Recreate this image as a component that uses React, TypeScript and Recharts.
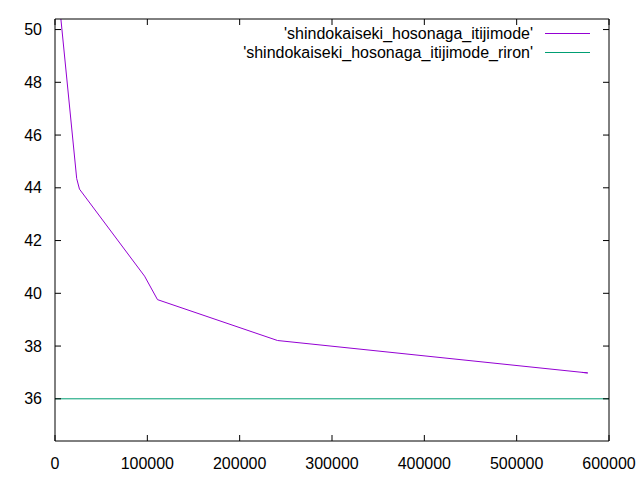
import { LineChart, Line, XAxis, YAxis, Legend } from "recharts"

const measuredX = [1000, 23500, 26500, 97000, 111000, 241000, 577000, 571000]
const measuredY = [52.3, 44.35, 43.95, 40.65, 39.76, 38.21, 36.98, 37.0]

// theoretical value
const rironX = [0, 600000]
const rironY = [36, 36]

const xTicks = [0, 100000, 200000, 300000, 400000, 500000, 600000]
const yTicks = [36, 38, 40, 42, 44, 46, 48, 50]

const seriesNames = [
  "'shindokaiseki_hosonaga_itijimode'",
  "'shindokaiseki_hosonaga_itijimode_riron'",
]
const seriesColors = ["#9400d3", "#009e73"]

const measured = measuredX.map((x, i) => ({ x, y: measuredY[i] }))
const riron = rironX.map((x, i) => ({ x, y: rironY[i] }))

const FONT = "'Liberation Sans', Arial, sans-serif"
const noLabel = () => ""

const GnuplotKey = () => (
  <div style={{ position: "relative", width: 640, height: 0, fontFamily: FONT, fontSize: 16, color: "#000" }}>
    {seriesNames.map((name, i) => (
      <div key={name}>
        <div
          style={{
            position: "absolute",
            right: 640 - 533,
            top: 24 + i * 19,
            lineHeight: "19px",
            whiteSpace: "nowrap",
          }}
        >
          {name}
        </div>
        <div
          style={{
            position: "absolute",
            left: 545,
            width: 45,
            top: 33 + i * 19,
            height: 1,
            background: seriesColors[i],
          }}
        />
      </div>
    ))}
  </div>
)

const App = () => {
  return (
    <div style={{ position: "absolute", left: 0, top: 0, fontFamily: FONT }}>
      <LineChart width={640} height={480} margin={{ top: 18, right: 30, bottom: 0, left: 0 }}>
        <XAxis
          xAxisId="bottom"
          dataKey="x"
          type="number"
          domain={[0, 600000]}
          ticks={xTicks}
          allowDataOverflow
          height={39}
          tickSize={-6}
          tickMargin={23}
          stroke="#000"
          tick={{ fill: "#000", fontSize: 16 }}
        />
        <XAxis
          xAxisId="top"
          orientation="top"
          dataKey="x"
          type="number"
          domain={[0, 600000]}
          ticks={xTicks}
          allowDataOverflow
          height={1}
          tickSize={-6}
          tickFormatter={noLabel}
          stroke="#000"
        />
        <YAxis
          yAxisId="left"
          type="number"
          domain={[34.4, 50.4]}
          ticks={yTicks}
          allowDataOverflow
          width={55}
          tickSize={-6}
          tickMargin={19}
          stroke="#000"
          tick={{ fill: "#000", fontSize: 16 }}
        />
        <YAxis
          yAxisId="right"
          orientation="right"
          type="number"
          domain={[34.4, 50.4]}
          ticks={yTicks}
          allowDataOverflow
          width={1}
          tickSize={-6}
          tickFormatter={noLabel}
          stroke="#000"
        />
        <Legend layout="horizontal" verticalAlign="middle" align="center" wrapperStyle={{ left: 0, top: 0, width: 640, height: 0 }} content={() => <GnuplotKey />} />
        <Line
          xAxisId="bottom"
          yAxisId="left"
          data={measured}
          dataKey="y"
          stroke={seriesColors[0]}
          strokeWidth={1}
          dot={false}
          isAnimationActive={false}
        />
        <Line
          xAxisId="bottom"
          yAxisId="left"
          data={riron}
          dataKey="y"
          stroke={seriesColors[1]}
          strokeWidth={1}
          dot={false}
          isAnimationActive={false}
        />
        {/* invisible copy on the mirror axes so that they get drawn as the frame */}
        <Line
          xAxisId="top"
          yAxisId="right"
          data={riron}
          dataKey="y"
          stroke="none"
          dot={false}
          legendType="none"
          isAnimationActive={false}
        />
      </LineChart>
    </div>
  )
}

export default App
